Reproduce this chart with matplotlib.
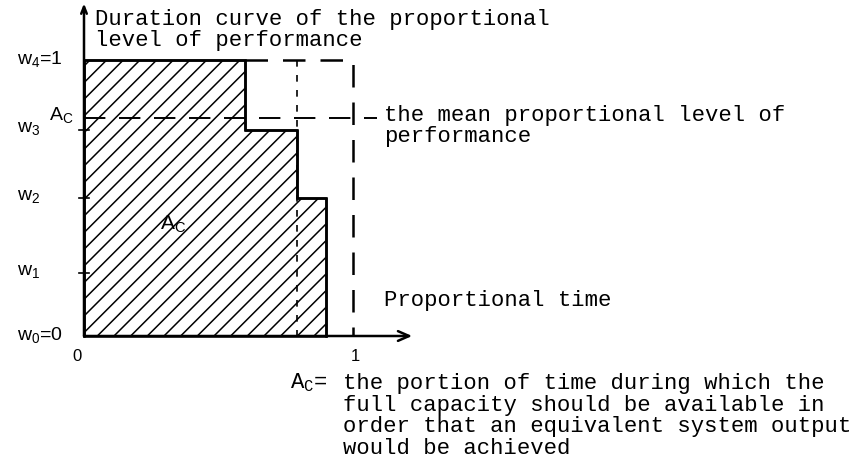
import matplotlib.pyplot as plt

plt.rcParams['hatch.linewidth'] = 1.1

# duration curve of the proportional level of performance
step_ends = [0.60, 0.79, 0.90]        # cumulative proportional time
step_levels = [1.0, 0.746, 0.50]      # w4, w3, w2
w_levels = [0.0, 0.23, 0.50, 0.746, 1.0]
w_names = ['w_0', 'w_1', 'w_2', 'w_3', 'w_4']
mean_level = 0.79                     # A_C

mono = 'Liberation Mono'
sans = 'Liberation Sans'
fs = 16

fig = plt.figure(figsize=(8.58, 4.62), dpi=100)
ax = fig.add_axes([0, 0, 1, 1])
ax.set_xlim(-84 / 269, (858 - 84) / 269)
ax.set_ylim((336 - 462) / 276, 336 / 276)
ax.axis('off')

# build step outline
xs, ys = [0], [0]
left = 0
for end, lev in zip(step_ends, step_levels):
    xs += [left, end]
    ys += [lev, lev]
    left = end
xs.append(step_ends[-1])
ys.append(0)

ax.fill(xs, ys, facecolor='white', edgecolor='black', hatch='//', lw=1.8)
ax.plot(xs, ys, color='black', lw=1.8)

# full-capacity box (dashed)
ax.plot([step_ends[0], 1, 1], [1, 1, 0], color='black', lw=1.8,
        dashes=(9, 6))
ax.plot([step_ends[1], step_ends[1]], [1, 0], color='black', lw=1.2,
        dashes=(4, 5))
# mean level line
ax.plot([0, 1.09], [mean_level, mean_level], color='black', lw=1.4,
        dashes=(11, 7))

# axes with arrows
ax.annotate('', xy=(0, 1.205), xytext=(0, 0),
            arrowprops=dict(arrowstyle='->,head_length=0.5,head_width=0.2',
                            lw=1.8, color='black', shrinkA=0, shrinkB=0))
ax.annotate('', xy=(1.22, 0), xytext=(0, 0),
            arrowprops=dict(arrowstyle='->,head_length=0.8,head_width=0.35',
                            lw=1.8, color='black', shrinkA=0, shrinkB=0))

# small ticks on the y-axis
for w in w_levels[1:4]:
    ax.plot([-0.018, 0.018], [w, w], color='black', lw=1.2)

# y labels
for name, w in zip(w_names, w_levels):
    lab = r'$\mathregular{%s}$' % name
    if name == 'w_0':
        lab += '=0'
    if name == 'w_4':
        lab += '=1'
    ax.text(-0.25, w + 0.005, lab, fontsize=14, family=sans,
            ha='left', va='center')
ax.text(-0.13, mean_level + 0.01, r'$\mathregular{A_C}$', fontsize=14,
        family=sans, ha='left', va='center')

# x tick labels
ax.text(-0.025, -0.075, '0', fontsize=12, family=sans, ha='center',
        va='center')
ax.text(1.01, -0.075, '1', fontsize=12, family=sans, ha='center',
        va='center')

# area label
ax.text(0.33, 0.405, r'$\mathregular{A_C}$', fontsize=15, family=sans,
        ha='center', va='center')

# annotations
ax.text(0.04, (336 - 30) / 276,
        'Duration curve of the proportional\nlevel of performance',
        fontsize=fs, family=mono, ha='left', va='center', linespacing=0.95)
ax.text(1.117, (336 - 126) / 276,
        'the mean proportional level of\nperformance',
        fontsize=fs, family=mono, ha='left', va='center', linespacing=0.95)
ax.text(1.117, 0.13, 'Proportional time', fontsize=fs, family=mono,
        ha='left', va='center')
ax.text(0.765, -0.17, r'$\mathregular{A_C}$=', fontsize=fs, family=mono,
        ha='left', va='center')
ax.text(0.962, (336 - 416) / 276,
        'the portion of time during which the\n'
        'full capacity should be available in\n'
        'order that an equivalent system output\n'
        'would be achieved',
        fontsize=fs, family=mono, ha='left', va='center', linespacing=1.05)

fig.savefig('out.png', dpi=100)
